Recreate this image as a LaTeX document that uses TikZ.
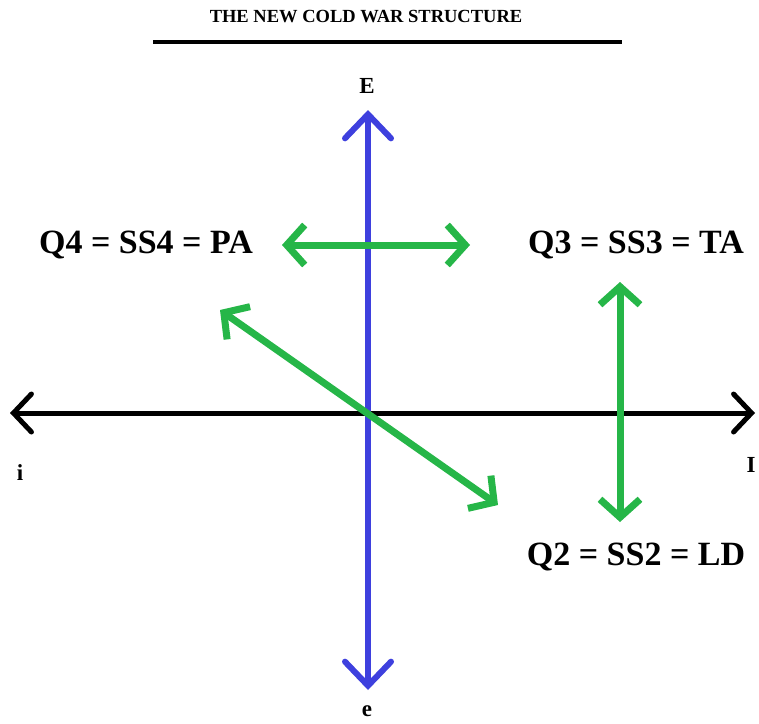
\documentclass[tikz,border=0pt]{standalone}
\usepackage{fontspec}
\setmainfont{Liberation Serif}
\usetikzlibrary{arrows.meta}
\definecolor{axisblue}{RGB}{62,64,222}
\definecolor{linkgreen}{RGB}{38,182,72}
\tikzset{
  axis/.style={line width=5pt, {Straight Barb[length=18pt,width=38pt,line cap=round]}-{Straight Barb[length=18pt,width=38pt,line cap=round]}},
  vaxis/.style={axisblue, line width=6pt, {Straight Barb[length=24pt,width=46pt,line cap=round]}-{Straight Barb[length=24pt,width=46pt,line cap=round]}},
  link/.style={linkgreen, line width=7pt, {Straight Barb[length=18pt,width=40pt]}-{Straight Barb[length=18pt,width=40pt]}},
  quad/.style={font=\fontsize{34}{38}\selectfont\bfseries},
  pole/.style={font=\fontsize{23}{26}\selectfont\bfseries}
}
\begin{document}
\begin{tikzpicture}[x=1pt,y=-1pt]
\useasboundingbox (0,0) rectangle (759,723);

% Title
\node[font=\fontsize{18.5}{20}\selectfont\bfseries] (title) at (366,17) {THE NEW COLD WAR STRUCTURE};
\draw[line width=3.5pt] (153,42) -- (622,42);

% Axes
\coordinate (west) at (10,413);
\coordinate (east) at (755,413);
\coordinate (north) at (368,110);
\coordinate (south) at (368,690);
\draw[axis] (west) -- (east);
\draw[vaxis] (south) -- (north);

\node[pole] (E) at (367,86) {E};
\node[pole] (e) at (367,711) {e};
\node[pole] (i) at (20,473) {i};
\node[pole, anchor=east] (I) at (759,465) {I};

% Quadrants
\node[quad] (q4) at (146,245) {Q4 = SS4 = PA};
\node[quad] (q3) at (636,245) {Q3 = SS3 = TA};
\node[quad] (q2) at (636,557) {Q2 = SS2 = LD};

% Links
\coordinate (a1) at (282,245);
\coordinate (a2) at (470,245);
\coordinate (b1) at (620,282);
\coordinate (b2) at (620,522);
\coordinate (c1) at (220,310);
\coordinate (c2) at (498,505);
\draw[link] (a1) -- (a2);
\draw[link] (b1) -- (b2);
\draw[link] (c1) -- (c2);

\end{tikzpicture}
\end{document}
